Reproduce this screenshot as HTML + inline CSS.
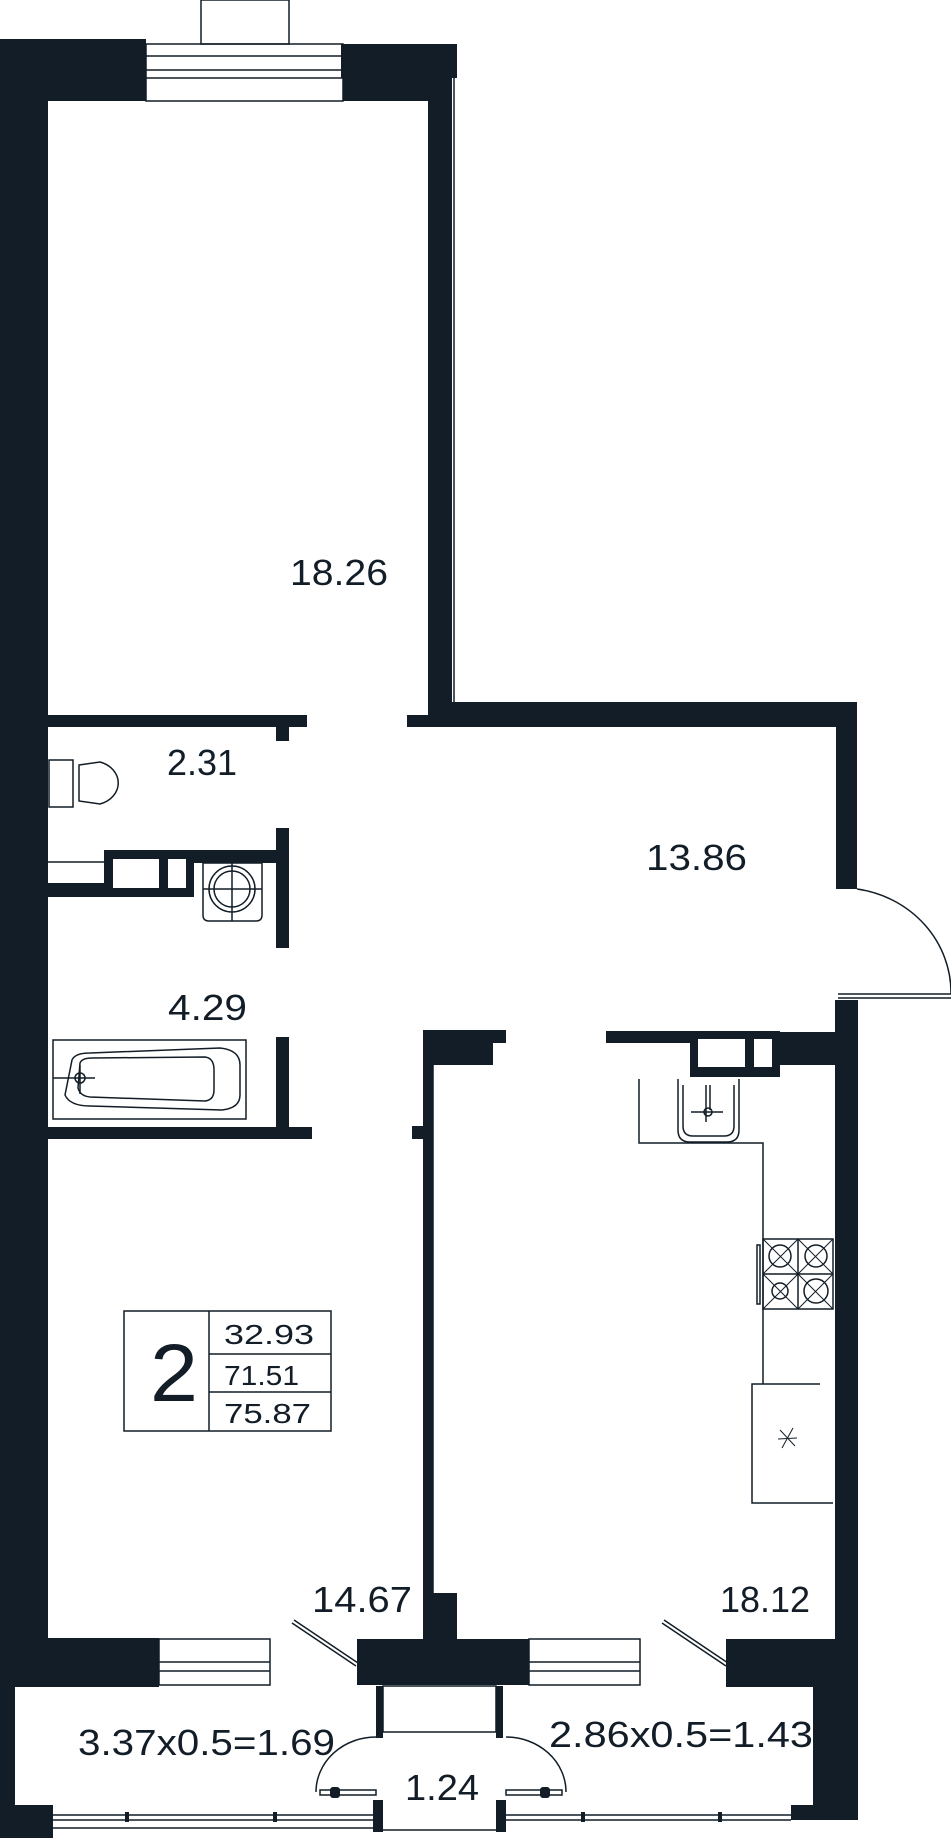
<!DOCTYPE html>
<html><head><meta charset="utf-8"><style>
html,body{margin:0;padding:0;background:#fff}
svg{display:block}
text{font-family:"Liberation Sans",sans-serif;fill:#121d27}
</style></head><body>
<svg width="951" height="1838" viewBox="0 0 951 1838" xmlns="http://www.w3.org/2000/svg">
<g fill="#121d27" stroke="none">
<rect x="0" y="39" width="48" height="1648"/>
<rect x="0" y="39" width="146" height="62"/>
<rect x="341" y="44" width="116" height="34"/>
<rect x="343" y="44" width="85" height="57"/>
<rect x="428" y="44" width="24" height="683"/>
<rect x="428" y="702" width="429" height="25"/>
<rect x="407" y="715" width="21" height="12"/>
<rect x="836" y="702" width="21" height="187"/>
<rect x="48" y="715" width="259" height="12"/>
<rect x="276" y="727" width="13" height="14"/>
<rect x="276" y="828" width="13" height="120"/>
<rect x="104" y="850" width="172" height="13"/>
<rect x="104" y="850" width="90" height="47"/>
<rect x="48" y="883" width="146" height="14"/>
<rect x="276" y="1037" width="13" height="90"/>
<rect x="48" y="1127" width="264" height="12"/>
<rect x="423" y="1030" width="70" height="35"/>
<rect x="493" y="1030" width="13" height="13"/>
<rect x="423" y="1030" width="10" height="610"/>
<rect x="412" y="1126" width="11" height="13"/>
<rect x="423" y="1593" width="34" height="50"/>
<rect x="357" y="1639" width="172" height="46"/>
<rect x="606" y="1031" width="84" height="12"/>
<rect x="690" y="1031" width="90" height="46"/>
<rect x="780" y="1032" width="56" height="33"/>
<rect x="835" y="1000" width="23" height="820"/>
<rect x="813" y="1687" width="45" height="133"/>
<rect x="791" y="1805" width="67" height="15"/>
<rect x="0" y="1638" width="159" height="49"/>
<rect x="726" y="1639" width="110" height="48"/>
<rect x="0" y="1687" width="15" height="151"/>
<rect x="0" y="1805" width="53" height="33"/>
<rect x="376" y="1686" width="7" height="52"/>
<rect x="496" y="1686" width="7" height="52"/>
<rect x="373" y="1800" width="10" height="32"/>
<rect x="496" y="1800" width="10" height="32"/>
</g>
<g fill="#fff">
<rect x="113" y="859" width="46" height="29"/>
<rect x="168" y="859" width="18" height="29"/>
<rect x="698" y="1039" width="47" height="28"/>
<rect x="754" y="1039" width="18" height="28"/>
</g>
<g fill="none" stroke="#121d27" stroke-width="1.5">
<rect x="201" y="0" width="88" height="44"/>
<rect x="146" y="44" width="197" height="57"/>
<line x1="146" y1="56" x2="343" y2="56"/><line x1="146" y1="70" x2="343" y2="70"/><line x1="146" y1="78" x2="343" y2="78"/>
<line x1="454" y1="78" x2="454" y2="702"/>
<line x1="48" y1="862" x2="104" y2="862"/>
<rect x="49" y="760" width="24" height="47"/>
<path d="M79,765 L100,762 A26,22 0 0 1 100,804 L79,801 Z"/>
<path d="M203,863 H262 V915 Q262,921 256,921 H209 Q203,921 203,915 Z"/>
<circle cx="232" cy="889" r="23"/><circle cx="232" cy="889" r="18"/>
<line x1="203" y1="889" x2="262" y2="889"/><line x1="232" y1="863" x2="232" y2="921"/>
<rect x="53" y="1040" width="193" height="79"/>
<path d="M72,1060 Q75,1053 90,1053 L220,1048 Q240,1050 240,1065 L240,1095 Q240,1108 222,1110 L90,1106 Q70,1106 65,1095 Z"/>
<path d="M80,1063 Q82,1058 92,1058 L205,1057 Q214,1058 214,1070 L214,1090 Q214,1100 205,1101 L90,1097 Q80,1096 78,1088 Z"/>
<circle cx="80" cy="1078" r="5"/><line x1="53" y1="1078" x2="95" y2="1078"/><line x1="80" y1="1065" x2="80" y2="1094"/>
<path d="M857,889 A110,105 0 0 1 951,994"/>
<line x1="838" y1="994" x2="951" y2="994"/><line x1="838" y1="998" x2="951" y2="998"/>
<line x1="433" y1="1065" x2="433" y2="1593"/>
<polyline points="639,1079 639,1143 763,1143 763,1384"/>
<path d="M678,1079 V1130 Q678,1142 690,1142 H727 Q739,1142 739,1130 V1079"/>
<path d="M683,1085 V1126 Q683,1136 693,1136 H724 Q734,1136 734,1126 V1085"/>
<circle cx="708" cy="1112" r="4"/><line x1="691" y1="1112" x2="723" y2="1112"/><line x1="706" y1="1085" x2="706" y2="1122"/><line x1="710" y1="1085" x2="710" y2="1110"/>
<rect x="763" y="1239" width="70" height="70"/>
<line x1="798" y1="1239" x2="798" y2="1309"/><line x1="763" y1="1274" x2="833" y2="1274"/>
<circle cx="780" cy="1256" r="11"/><circle cx="816" cy="1256" r="11"/><circle cx="780" cy="1291" r="8"/><circle cx="816" cy="1291" r="12"/>
<path d="M763,1239 L833,1309 M833,1239 L763,1309 M798,1239 L763,1274 M763,1239 L798,1274 M798,1239 L833,1274 M833,1239 L798,1274 M763,1274 L798,1309 M798,1274 L763,1309 M798,1274 L833,1309 M833,1274 L798,1309" stroke-width="1"/>
<rect x="757" y="1245" width="3" height="59"/>
<path d="M820,1384 H752 V1503 H833"/>
<path d="M780,1430 L795,1446 M793,1428 L782,1448 M778,1439 L797,1438" stroke-width="1"/>
<rect x="159" y="1639" width="111" height="46"/>
<line x1="159" y1="1662" x2="270" y2="1662"/><line x1="159" y1="1671" x2="270" y2="1671"/>
<rect x="529" y="1639" width="111" height="46"/>
<line x1="529" y1="1662" x2="640" y2="1662"/><line x1="529" y1="1671" x2="640" y2="1671"/>
<path d="M294,1620 L358,1663 M292,1623 L356,1666"/>
<path d="M664,1620 L728,1663 M662,1623 L726,1666"/>
<rect x="383" y="1686" width="113" height="46"/>
<path d="M376,1737 A60,55 0 0 0 316,1792"/>
<path d="M506,1737 A60,55 0 0 1 566,1792"/>
<rect x="320" y="1790" width="56" height="5"/>
<rect x="506" y="1790" width="56" height="5"/>
<line x1="376" y1="1830" x2="506" y2="1830"/>
<line x1="53" y1="1815" x2="373" y2="1815"/><line x1="53" y1="1820" x2="373" y2="1820"/>
<line x1="53" y1="1828" x2="373" y2="1828"/>
<line x1="506" y1="1815" x2="791" y2="1815"/><line x1="506" y1="1820" x2="791" y2="1820"/>
<rect x="124" y="1311" width="207" height="120"/>
<line x1="209" y1="1311" x2="209" y2="1431"/>
<line x1="209" y1="1354" x2="331" y2="1354"/><line x1="209" y1="1392" x2="331" y2="1392"/>
</g>
<g fill="#121d27">
<rect x="125" y="1812" width="4" height="10"/><rect x="273" y="1812" width="4" height="10"/><rect x="581" y="1812" width="4" height="10"/><rect x="718" y="1812" width="4" height="10"/>
<rect x="330" y="1787" width="10" height="11" rx="3"/><rect x="540" y="1787" width="10" height="11" rx="3"/>
</g>
<g font-size="36">
<text x="290" y="585" textLength="98" lengthAdjust="spacingAndGlyphs">18.26</text>
<text x="167" y="775" textLength="70" lengthAdjust="spacingAndGlyphs">2.31</text>
<text x="646" y="870" textLength="101" lengthAdjust="spacingAndGlyphs">13.86</text>
<text x="168" y="1020" textLength="79" lengthAdjust="spacingAndGlyphs">4.29</text>
<text x="312" y="1612" textLength="100" lengthAdjust="spacingAndGlyphs">14.67</text>
<text x="720" y="1612" textLength="90" lengthAdjust="spacingAndGlyphs">18.12</text>
<text x="78" y="1755" textLength="257" lengthAdjust="spacingAndGlyphs">3.37x0.5=1.69</text>
<text x="549" y="1747" textLength="264" lengthAdjust="spacingAndGlyphs">2.86x0.5=1.43</text>
<text x="405" y="1800" textLength="74" lengthAdjust="spacingAndGlyphs">1.24</text>
</g>
<text x="150" y="1401" font-size="82" textLength="48" lengthAdjust="spacingAndGlyphs">2</text>
<g font-size="28">
<text x="224" y="1344" textLength="90" lengthAdjust="spacingAndGlyphs">32.93</text>
<text x="224" y="1385" textLength="75" lengthAdjust="spacingAndGlyphs">71.51</text>
<text x="224" y="1423" textLength="87" lengthAdjust="spacingAndGlyphs">75.87</text>
</g>
</svg>
</body></html>
